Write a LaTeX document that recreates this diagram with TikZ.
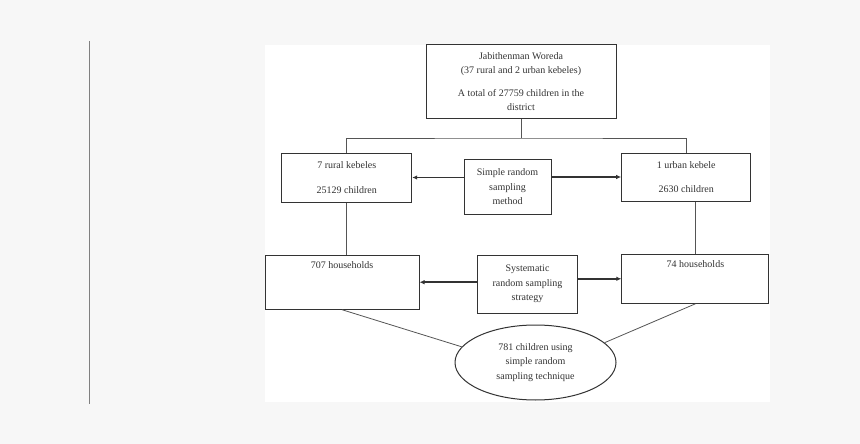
\documentclass[tikz,border=0pt]{standalone}
\usepackage{fontspec}
\setmainfont{Liberation Serif}
\usetikzlibrary{positioning,shapes.geometric,arrows.meta}
\definecolor{pagebg}{HTML}{F7F7F7}
\definecolor{ink}{HTML}{333333}
\definecolor{wire}{HTML}{555555}
\tikzstyle{box}=[draw=ink,line width=1pt,text=ink,align=center,inner sep=3.5pt,
  font=\fontsize{10}{14.5}\selectfont]
\tikzstyle{link}=[draw=wire,line width=0.8pt]
\tikzstyle{arr}=[draw=ink,line width=1.5pt,-{Latex[length=5pt,width=4.5pt]}]

\begin{document}
\begin{tikzpicture}[x=1pt,y=-1pt]
    % page and panel
    \fill[pagebg] (0,0) rectangle (860,444);
    \fill[white] (265,45) rectangle (770,402);
    \draw[gray,line width=1pt] (89,41) -- (89,404);

    \node[box,minimum width=190,minimum height=73] (woreda) at (521,81.5)
      {Jabithenman Woreda\\(37 rural and 2 urban kebeles)\\[8pt]A total of 27759 children in the\\district};
    \node[box,minimum width=130,minimum height=49] (rural) at (346.7,177.5)
      {7 rural kebeles\\[10pt]25129 children};
    \node[box,minimum width=87,minimum height=55] (srs) at (507.5,186.7)
      {Simple random\\sampling\\method};
    \node[box,minimum width=129,minimum height=48] (urban) at (686.2,177)
      {1 urban kebele\\[10pt]2630 children};
    \node[box,minimum width=154,text height=10pt,text depth=37pt] (ruralhh) at (342,282.2)
      {707 households};
    \node[box,minimum width=100,minimum height=58] (sys) at (527.5,284.2)
      {Systematic\\random sampling\\strategy};
    \node[box,minimum width=147,text height=10pt,text depth=32pt] (urbanhh) at (695.4,278.8)
      {74 households};
    \node[box,ellipse,minimum width=161,minimum height=75,inner sep=0pt] (sample) at (535.5,362.5)
      {781 children using\\simple random\\sampling technique};

    \coordinate[below=19.5pt of woreda.south] (split);
    \draw[link] (woreda.south) -- (split);
    \draw[link] (rural.north) |- (split) -| (urban.north);
    \draw[link] (rural.south) -- (rural.south |- ruralhh.north);
    \draw[link] (urbanhh.north) -- (urbanhh.north |- urban.south);
    \draw[arr] (srs.west |- rural.east) -- (rural.east);
    \draw[arr] (srs.east |- urban.west) -- (urban.west);
    \draw[arr] (sys.west |- ruralhh.east) -- (ruralhh.east);
    \draw[arr] (sys.east |- urbanhh.west) -- (urbanhh.west);
    \draw[link] (ruralhh.south) -- (sample.168);
    \draw[link] (urbanhh.south) -- (sample.16);
\end{tikzpicture}
\end{document}
